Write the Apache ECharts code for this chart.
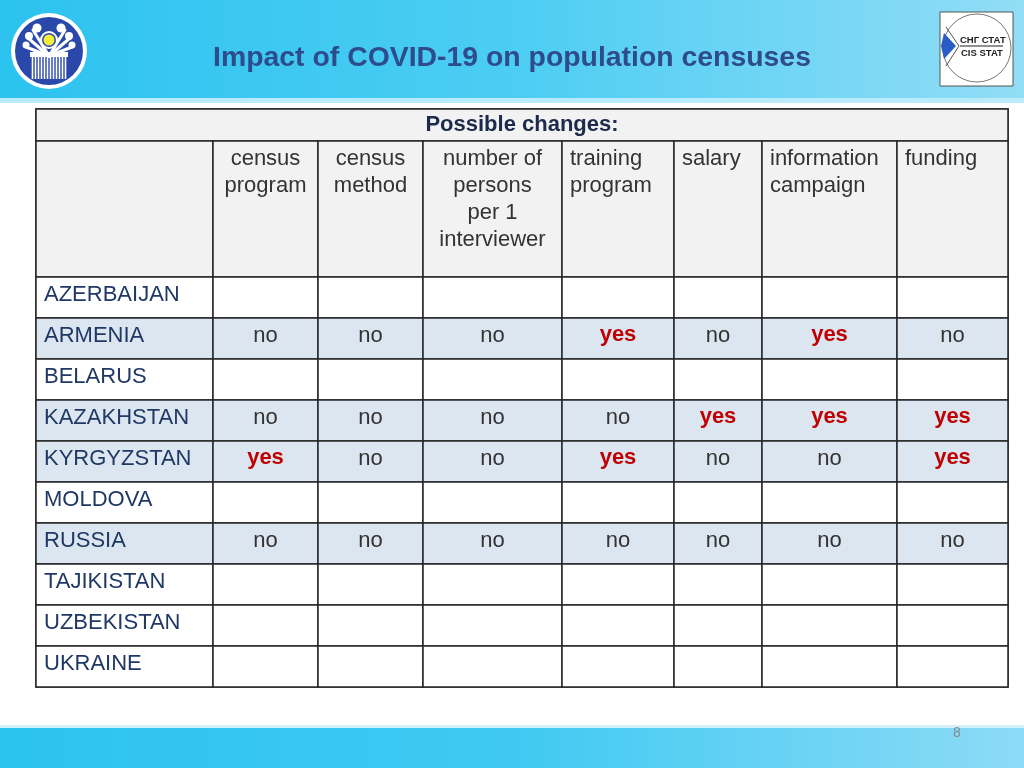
<!DOCTYPE html>
<html>
<head>
<meta charset="utf-8">
<script src="https://cdn.jsdelivr.net/npm/echarts@6.0.0/dist/echarts.min.js"></script>
<style>
  html, body { margin: 0; padding: 0; background: #fff; }
  #main { width: 1024px; height: 768px; }
</style>
</head>
<body>
<div id="main"></div>
<script>
var countries = ['AZERBAIJAN', 'ARMENIA', 'BELARUS', 'KAZAKHSTAN', 'KYRGYZSTAN',
  'MOLDOVA', 'RUSSIA', 'TAJIKISTAN', 'UZBEKISTAN', 'UKRAINE'];
var changes = ['census\nprogram', 'census\nmethod', 'number of\npersons\nper 1\ninterviewer',
  'training\nprogram', 'salary', 'information\ncampaign', 'funding'];

var armenia = ['no', 'no', 'no', 'yes', 'no', 'yes', 'no'];
var kazakhstan = ['no', 'no', 'no', 'no', 'yes', 'yes', 'yes'];
var kyrgyzstan = ['yes', 'no', 'no', 'yes', 'no', 'no', 'yes'];
var russia = ['no', 'no', 'no', 'no', 'no', 'no', 'no'];
var answers = { ARMENIA: armenia, KAZAKHSTAN: kazakhstan, KYRGYZSTAN: kyrgyzstan, RUSSIA: russia };

// table layout (px)
var colSizes = [177, 105, 105, 139, 112, 88, 135, 111];
var rowSizes = [32, 136, 41, 41, 41, 41, 41, 41, 41, 41, 41, 41];
var headLeft = [false, false, false, true, true, true, true];

var FONT = 'Liberation Sans, Arial, sans-serif';
var grey = '#f2f2f2';
var blue = '#dce6f1';

var cells = [];
cells.push({
  coord: [[0, 7], 0], mergeCells: true, value: 'Possible changes:',
  label: { fontWeight: 'bold', color: '#1c2b4b' },
  itemStyle: { color: grey }
});
cells.push({ coord: [0, 1], value: '', itemStyle: { color: grey } });
changes.forEach(function (name, i) {
  cells.push({
    coord: [i + 1, 1], value: name,
    label: headLeft[i]
      ? { position: [5, 2], align: 'left', verticalAlign: 'top', lineHeight: 27, color: '#333' }
      : { position: 'insideTop', distance: 2, align: 'center', verticalAlign: 'top', lineHeight: 27, color: '#333' },
    itemStyle: { color: grey }
  });
});
countries.forEach(function (c, j) {
  var row = answers[c];
  var fill = row ? blue : '#fff';
  cells.push({
    coord: [0, j + 2], value: c,
    label: { position: [5, 5], align: 'left', verticalAlign: 'top', color: '#203864' },
    itemStyle: { color: fill }
  });
  for (var i = 0; i < 7; i++) {
    var v = row ? row[i] : '';
    cells.push({
      coord: [i + 1, j + 2], value: v,
      label: v === 'yes'
        ? { position: 'insideTop', distance: 4, align: 'center', verticalAlign: 'top', color: '#c00000', fontWeight: 'bold' }
        : { position: 'insideTop', distance: 5, align: 'center', verticalAlign: 'top', color: '#333' },
      itemStyle: { color: fill }
    });
  }
});

var chart = echarts.init(document.getElementById('main'));
chart.setOption({
  backgroundColor: '#fff',
  title: {
    text: 'Impact of COVID-19 on population censuses',
    left: 'center',
    top: 39,
    textStyle: { fontFamily: FONT, fontSize: 28.4, fontWeight: 'bold', color: '#2e4c8c' }
  },
  graphic: [
    // header band
    {
      type: 'rect', z: -10, shape: { x: 0, y: 0, width: 1024, height: 100 },
      style: { fill: new echarts.graphic.LinearGradient(0, 0, 1, 0, [
        { offset: 0, color: '#2cc3ef' }, { offset: 0.5, color: '#4ccdf3' }, { offset: 1, color: '#92ddf6' }]) }
    },
    { type: 'rect', z: -9, shape: { x: 0, y: 98, width: 1024, height: 5 }, style: { fill: '#b9ebfa' } },
    // footer band
    {
      type: 'rect', z: -10, shape: { x: 0, y: 727, width: 1024, height: 41 },
      style: { fill: new echarts.graphic.LinearGradient(0, 0, 1, 0, [
        { offset: 0, color: '#2cc3ef' }, { offset: 0.5, color: '#3fc9f2' }, { offset: 1, color: '#8ddbf6' }]) }
    },
    { type: 'rect', z: -9, shape: { x: 0, y: 725, width: 1024, height: 3 }, style: { fill: '#d3f1fb' } },
    { type: 'text', x: 953, y: 726, style: { text: '8', fontSize: 14, fontFamily: FONT, fill: '#8a8a8a' } },
    // CIS emblem
    { type: 'circle', shape: { cx: 49, cy: 51, r: 38 }, style: { fill: '#ffffff' } },
    { type: 'circle', shape: { cx: 49, cy: 51, r: 34 }, style: { fill: '#2a48aa' } },
    {
      type: 'group', children: [32, 35, 38, 41, 44, 47, 50, 53, 56, 59, 62, 65].map(function (x) {
        return { type: 'line', shape: { x1: x + 0.5, y1: 56, x2: x + 0.5, y2: 79 }, style: { stroke: '#fff', lineWidth: 1.6 } };
      })
    },
    {
      type: 'group', children: [
        [49, 56, 33, 30], [49, 56, 28, 38], [49, 56, 26, 47],
        [49, 56, 65, 30], [49, 56, 70, 38], [49, 56, 72, 47]
      ].map(function (p) {
        return { type: 'line', shape: { x1: p[0], y1: p[1], x2: p[2], y2: p[3] }, style: { stroke: '#fff', lineWidth: 3, lineCap: 'round' } };
      }).concat([
        { type: 'circle', shape: { cx: 37, cy: 28, r: 4.5 }, style: { fill: '#fff' } },
        { type: 'circle', shape: { cx: 61, cy: 28, r: 4.5 }, style: { fill: '#fff' } },
        { type: 'circle', shape: { cx: 29, cy: 36, r: 4 }, style: { fill: '#fff' } },
        { type: 'circle', shape: { cx: 69, cy: 36, r: 4 }, style: { fill: '#fff' } },
        { type: 'circle', shape: { cx: 26, cy: 45, r: 3.5 }, style: { fill: '#fff' } },
        { type: 'circle', shape: { cx: 72, cy: 45, r: 3.5 }, style: { fill: '#fff' } },
        { type: 'rect', shape: { x: 30, y: 52, width: 38, height: 5 }, style: { fill: '#fff' } },
        { type: 'circle', shape: { cx: 49, cy: 40, r: 8 }, style: { fill: '#2a48aa', stroke: '#fff', lineWidth: 2 } },
        { type: 'circle', shape: { cx: 49, cy: 40, r: 5.5 }, style: { fill: '#f3ee3a' } }
      ])
    },
    // CIS STAT logo
    { type: 'rect', shape: { x: 940, y: 12, width: 73, height: 74 }, style: { fill: '#fff', stroke: '#555', lineWidth: 1 } },
    { type: 'circle', shape: { cx: 977, cy: 48, r: 34 }, style: { fill: 'none', stroke: '#777', lineWidth: 1 } },
    { type: 'polygon', shape: { points: [[944, 33], [956, 46], [944, 59], [941, 46]] }, style: { fill: '#2a5cc8' } },
    { type: 'polyline', shape: { points: [[946, 27], [959, 46], [946, 66]] }, style: { stroke: '#555', lineWidth: 1 } },
    { type: 'text', x: 960, y: 35, style: { text: 'СНГ СТАТ', fontSize: 9.5, fontWeight: 'bold', fontFamily: FONT, fill: '#222' } },
    { type: 'line', shape: { x1: 960, y1: 46, x2: 1003, y2: 46 }, style: { stroke: '#222', lineWidth: 1.2 } },
    { type: 'text', x: 961, y: 48, style: { text: 'CIS STAT', fontSize: 9.5, fontWeight: 'bold', fontFamily: FONT, fill: '#222' } }
  ],
  matrix: {
    left: 36, top: 109, width: 972, height: 578,
    x: { show: false, data: colSizes.map(function (s, i) { return { value: 'c' + i, size: s }; }) },
    y: { show: false, data: rowSizes.map(function (s, i) { return { value: 'r' + i, size: s }; }) },
    backgroundStyle: { color: '#fff', borderColor: '#262626', borderWidth: 1.5 },
    body: {
      data: cells,
      itemStyle: { borderColor: '#262626', borderWidth: 1.5 },
      label: { fontFamily: FONT, fontSize: 22, color: '#333', overflow: 'none' }
    }
  }
});
</script>
</body>
</html>
